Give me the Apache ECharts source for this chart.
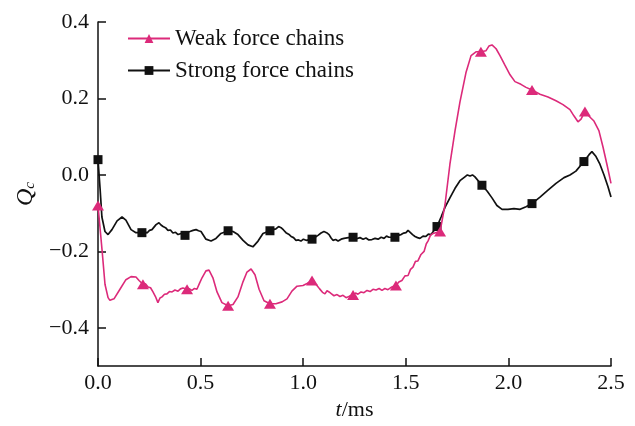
<!DOCTYPE html>
<html>
<head>
<meta charset="utf-8">
<script src="https://cdn.jsdelivr.net/npm/echarts@6/dist/echarts.min.js"></script>
<style>
  html, body { margin: 0; padding: 0; background: #fff; }
  #chart { width: 635px; height: 426px; }
</style>
</head>
<body>
<div id="chart"></div>
<script>
// Q_c of weak and strong force chains over time t (ms)
const weakChains = [
  [0.000,-0.080],[0.020,-0.198],[0.034,-0.286],[0.049,-0.321],[0.058,-0.328],[0.078,-0.324],
  [0.107,-0.299],[0.136,-0.274],[0.161,-0.266],[0.185,-0.267],[0.200,-0.276],[0.219,-0.286],
  [0.232,-0.285],[0.244,-0.293],[0.256,-0.295],[0.268,-0.306],[0.280,-0.318],[0.292,-0.334],
  [0.302,-0.322],[0.312,-0.319],[0.324,-0.312],[0.336,-0.311],[0.348,-0.305],[0.361,-0.306],
  [0.375,-0.301],[0.390,-0.304],[0.402,-0.298],[0.414,-0.296],[0.434,-0.299],[0.446,-0.298],
  [0.458,-0.302],[0.470,-0.297],[0.482,-0.299],[0.495,-0.283],[0.507,-0.269],
  [0.526,-0.251],[0.541,-0.249],[0.560,-0.269],[0.580,-0.306],[0.604,-0.334],[0.634,-0.342],
  [0.658,-0.339],[0.682,-0.319],[0.707,-0.279],[0.726,-0.254],[0.746,-0.246],[0.765,-0.261],
  [0.785,-0.299],[0.809,-0.329],[0.838,-0.337],[0.867,-0.337],[0.897,-0.332],[0.921,-0.324],
  [0.945,-0.304],[0.970,-0.291],[0.999,-0.289],[1.019,-0.284],[1.043,-0.276],[1.067,-0.289],
  [1.080,-0.298],[1.094,-0.307],[1.106,-0.311],[1.116,-0.303],[1.126,-0.306],[1.138,-0.311],
  [1.150,-0.316],[1.165,-0.313],[1.179,-0.318],[1.194,-0.315],[1.209,-0.321],[1.226,-0.317],
  [1.243,-0.314],[1.255,-0.309],[1.267,-0.312],[1.282,-0.306],[1.296,-0.308],[1.311,-0.302],
  [1.326,-0.305],[1.340,-0.299],[1.355,-0.301],[1.370,-0.297],[1.384,-0.302],[1.398,-0.297],
  [1.413,-0.300],[1.432,-0.293],[1.452,-0.289],[1.466,-0.280],[1.481,-0.276],[1.496,-0.264],
  [1.511,-0.263],[1.523,-0.247],[1.535,-0.241],[1.547,-0.226],[1.559,-0.225],[1.574,-0.208],
  [1.589,-0.200],[1.600,-0.180],[1.608,-0.173],[1.620,-0.158],[1.633,-0.153],[1.667,-0.148],
  [1.691,-0.078],[1.715,0.028],
  [1.740,0.116],[1.764,0.191],[1.793,0.267],[1.818,0.312],[1.842,0.322],[1.866,0.322],
  [1.891,0.325],[1.905,0.337],[1.920,0.340],[1.940,0.330],[1.959,0.312],[1.983,0.287],
  [2.008,0.262],[2.032,0.244],[2.061,0.237],[2.086,0.229],[2.115,0.222],[2.154,0.211],
  [2.193,0.204],[2.232,0.194],[2.266,0.184],[2.300,0.171],[2.320,0.154],[2.339,0.139],
  [2.354,0.146],[2.373,0.166],[2.398,0.151],[2.417,0.141],[2.441,0.116],[2.461,0.073],
  [2.480,0.028],[2.500,-0.022]
];
const weakMarkerT = [0.000,0.219,0.434,0.634,0.838,1.043,1.243,1.452,1.667,1.866,2.115,2.373];

const strongChains = [
  [0.000,0.040],[0.010,-0.035],[0.019,-0.110],[0.034,-0.148],[0.049,-0.156],[0.068,-0.143],
  [0.093,-0.120],[0.117,-0.110],[0.136,-0.118],[0.161,-0.143],[0.185,-0.151],[0.214,-0.151],
  [0.227,-0.148],[0.239,-0.152],[0.251,-0.145],[0.263,-0.143],[0.283,-0.130],[0.297,-0.125],
  [0.307,-0.131],[0.317,-0.135],[0.329,-0.138],[0.341,-0.145],[0.353,-0.144],[0.365,-0.152],
  [0.378,-0.150],[0.390,-0.156],[0.405,-0.153],[0.424,-0.158],[0.436,-0.150],[0.448,-0.148],
  [0.463,-0.145],[0.478,-0.143],[0.490,-0.146],[0.502,-0.148],
  [0.526,-0.168],[0.551,-0.173],[0.575,-0.166],[0.599,-0.153],[0.634,-0.146],[0.658,-0.148],
  [0.682,-0.156],[0.707,-0.171],[0.731,-0.183],[0.755,-0.188],[0.780,-0.173],[0.804,-0.153],
  [0.838,-0.146],[0.852,-0.143],[0.867,-0.141],[0.880,-0.135],[0.892,-0.138],[0.904,-0.144],
  [0.916,-0.151],[0.929,-0.155],[0.941,-0.161],[0.953,-0.164],[0.965,-0.171],[0.977,-0.170],
  [0.989,-0.173],[1.001,-0.168],[1.014,-0.171],[1.043,-0.168],[1.058,-0.163],[1.072,-0.158],
  [1.087,-0.152],[1.101,-0.148],[1.114,-0.151],[1.126,-0.156],[1.136,-0.165],[1.145,-0.171],
  [1.158,-0.169],[1.170,-0.173],[1.185,-0.168],[1.199,-0.166],[1.220,-0.164],[1.243,-0.163],
  [1.260,-0.167],[1.277,-0.164],[1.292,-0.168],[1.306,-0.165],[1.320,-0.170],[1.335,-0.169],
  [1.350,-0.166],[1.365,-0.168],[1.380,-0.163],[1.394,-0.166],[1.406,-0.160],[1.418,-0.163],
  [1.447,-0.163],[1.462,-0.158],[1.477,-0.156],[1.490,-0.152],[1.501,-0.151],[1.511,-0.145],
  [1.520,-0.148],[1.533,-0.156],[1.545,-0.161],[1.557,-0.164],[1.569,-0.166],[1.584,-0.160],
  [1.598,-0.161],[1.610,-0.155],[1.623,-0.156],
  [1.652,-0.135],[1.672,-0.110],[1.691,-0.085],[1.715,-0.060],[1.740,-0.035],[1.764,-0.015],
  [1.788,-0.005],[1.800,0.000],[1.813,-0.003],[1.825,0.000],[1.837,-0.005],[1.871,-0.027],
  [1.896,-0.042],[1.920,-0.060],
  [1.944,-0.080],[1.969,-0.090],[1.998,-0.090],[2.027,-0.088],[2.057,-0.090],[2.086,-0.083],
  [2.115,-0.075],[2.154,-0.058],[2.193,-0.040],[2.232,-0.022],[2.271,-0.007],[2.300,0.000],
  [2.329,0.010],[2.368,0.035],[2.393,0.053],[2.407,0.061],[2.427,0.048],[2.446,0.028],
  [2.466,0.000],[2.485,-0.030],[2.500,-0.058]
];
const strongMarkerT = [0.000,0.214,0.424,0.634,0.838,1.043,1.243,1.447,1.652,1.871,2.115,2.368];

const xTicks = [0, 0.5, 1.0, 1.5, 2.0, 2.5];
const yTicks = [-0.4, -0.2, 0.0, 0.2, 0.4];

const PINK = '#dc2a7a';
const INK = '#111';
const SERIF = '"Liberation Serif", "DejaVu Serif", serif';

// only some samples carry a marker symbol
function withMarkers(points, markerT, symbol) {
  return points.map(p => ({
    value: p,
    symbol: markerT.includes(p[0]) ? symbol : 'none'
  }));
}

const fmt = v => v.toFixed(1).replace('-', '\u2212');

const chart = echarts.init(document.getElementById('chart'), null, { renderer: 'canvas' });
chart.setOption({
  animation: false,
  backgroundColor: '#fff',
  textStyle: { fontFamily: SERIF },
  grid: { left: 98, right: 24, top: 22, bottom: 46, containLabel: false },
  legend: {
    left: 122, top: 22, orient: 'vertical',
    itemWidth: 42, itemHeight: 11, itemGap: 9,
    textStyle: { fontFamily: SERIF, fontSize: 23, color: INK },
    data: ['Weak force chains', 'Strong force chains']
  },
  xAxis: {
    type: 'value', min: 0, max: 2.5,
    axisLine: { show: true, onZero: false, lineStyle: { color: INK, width: 1.5 } },
    axisTick: { show: true, inside: true, length: 8, customValues: xTicks, lineStyle: { color: INK, width: 1.5 } },
    axisLabel: { customValues: xTicks, formatter: fmt, fontFamily: SERIF, fontSize: 22, color: INK, margin: 6 },
    splitLine: { show: false },
    name: '{i|t}/ms', nameLocation: 'middle', nameGap: 27,
    nameTextStyle: {
      fontFamily: SERIF, fontSize: 22, color: INK,
      rich: { i: { fontFamily: SERIF, fontSize: 22, fontStyle: 'italic', color: INK } }
    }
  },
  yAxis: {
    type: 'value', min: -0.5, max: 0.4,
    axisLine: { show: true, onZero: false, lineStyle: { color: INK, width: 1.5 } },
    axisTick: { show: true, inside: true, length: 8, customValues: yTicks, lineStyle: { color: INK, width: 1.5 } },
    axisLabel: { customValues: yTicks, formatter: fmt, fontFamily: SERIF, fontSize: 22, color: INK, margin: 9 },
    splitLine: { show: false },
    name: '{q|Q}{s|c}', nameLocation: 'middle', nameRotate: 90, nameGap: 60,
    nameTextStyle: {
      rich: {
        q: { fontFamily: SERIF, fontSize: 24, fontStyle: 'italic', color: INK, verticalAlign: 'bottom' },
        s: { fontFamily: SERIF, fontSize: 15, fontStyle: 'italic', color: INK, verticalAlign: 'bottom' }
      }
    }
  },
  series: [
    {
      name: 'Weak force chains', type: 'line', z: 3,
      symbol: 'triangle', symbolSize: [12, 10], showAllSymbol: true,
      lineStyle: { color: PINK, width: 1.6 },
      itemStyle: { color: PINK },
      data: withMarkers(weakChains, weakMarkerT, 'triangle')
    },
    {
      name: 'Strong force chains', type: 'line', z: 2,
      symbol: 'rect', symbolSize: 9, showAllSymbol: true,
      lineStyle: { color: INK, width: 1.7 },
      itemStyle: { color: INK },
      data: withMarkers(strongChains, strongMarkerT, 'rect')
    }
  ]
});
</script>
</body>
</html>
